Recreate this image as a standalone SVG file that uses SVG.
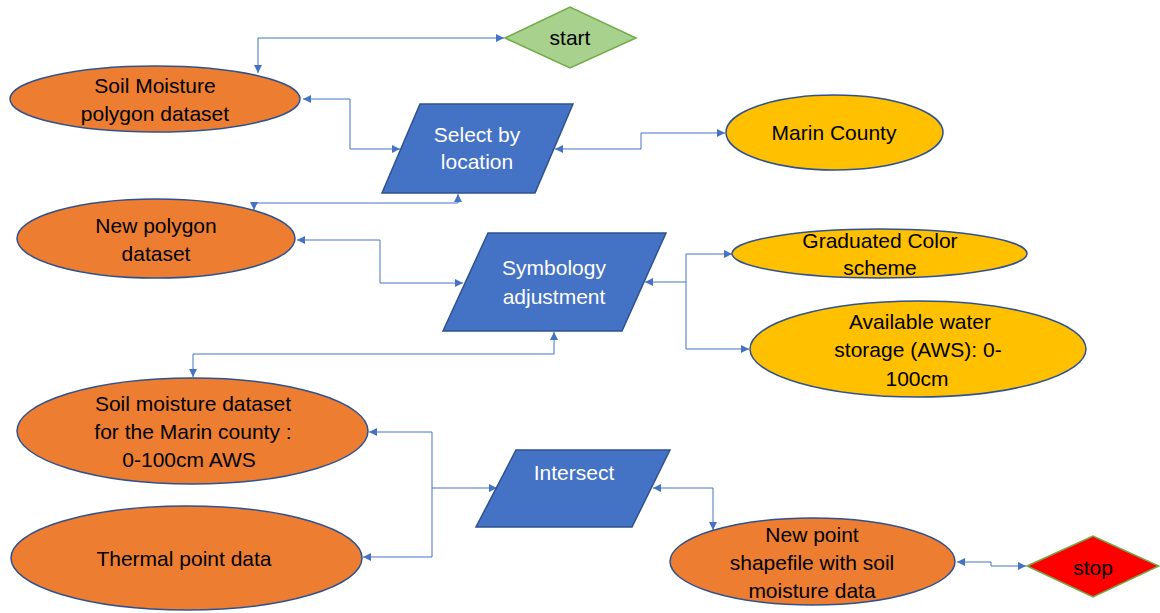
<svg xmlns="http://www.w3.org/2000/svg" width="1160" height="613" viewBox="0 0 1160 613">
  <style>
    .data { fill: #ED7D31; stroke: #2F528F; stroke-width: 1.5; }
    .input { fill: #FFC000; stroke: #2F528F; stroke-width: 1.5; }
    .proc { fill: #4472C4; stroke: #2F528F; stroke-width: 1.5; }
    .term { stroke: #70AD47; stroke-width: 1.5; }
    text { font-family: "Liberation Sans", Arial, sans-serif; font-size: 21px; text-anchor: middle; fill: #000; }
    .proc-label { fill: #fff; }
    .link { fill: none; stroke: #4472C4; stroke-width: 1; marker-start: url(#arrow); marker-end: url(#arrow); }
    .link-end { fill: none; stroke: #4472C4; stroke-width: 1; marker-end: url(#arrow); }
  </style>
  <defs>
    <marker id="arrow" viewBox="0 0 10 10" refX="10" refY="5" markerWidth="9" markerHeight="8" markerUnits="userSpaceOnUse" orient="auto-start-reverse">
      <path d="M0,0 L10,5 L0,10 Z" fill="#4472C4"/>
    </marker>
  </defs>

  <!-- connectors -->
  <g id="connectors">
    <path class="link" d="M258,73 V38 H504"/>
    <path class="link" d="M303,99 H350 V149 H400"/>
    <path class="link" d="M555,149 H641 V133 H725"/>
    <path class="link" d="M458,194 V203 H254 V210"/>
    <path class="link" d="M297,240 H380 V283 H463"/>
    <path class="link" d="M645,282 H686 V254 H732"/>
    <path class="link-end" d="M686,282 V349 H749"/>
    <path class="link" d="M554,332 V354 H193 V377"/>
    <path class="link" d="M497,488 H432 V432 H369"/>
    <path class="link-end" d="M432,488 V557 H363"/>
    <path class="link" d="M653,488 H713 V530"/>
    <path class="link" d="M957,562 H991 V566 H1026"/>
  </g>

  <g id="start">
    <polygon class="term" fill="#A9D18E" points="505,38 570,7 636,38 570,68"/>
    <text x="570" y="45">start</text>
  </g>

  <g id="soil-moisture-polygon">
    <ellipse class="data" cx="155" cy="99" rx="145" ry="33"/>
    <text x="155" y="93">Soil Moisture</text>
    <text x="155" y="121">polygon dataset</text>
  </g>

  <g id="select-by-location">
    <polygon class="proc" points="420,104 573,104 535,193 382,193"/>
    <text class="proc-label" x="477" y="142">Select by</text>
    <text class="proc-label" x="477" y="169">location</text>
  </g>

  <g id="marin-county">
    <ellipse class="input" cx="834.5" cy="132.5" rx="108.5" ry="37.5"/>
    <text x="834" y="140">Marin County</text>
  </g>

  <g id="new-polygon">
    <ellipse class="data" cx="156" cy="238.5" rx="139" ry="39.5"/>
    <text x="156" y="233">New polygon</text>
    <text x="156" y="261">dataset</text>
  </g>

  <g id="symbology">
    <polygon class="proc" points="488,233 666,233 622,331 443,331"/>
    <text class="proc-label" x="554" y="275">Symbology</text>
    <text class="proc-label" x="554" y="304">adjustment</text>
  </g>

  <g id="graduated-color">
    <ellipse class="input" cx="879.5" cy="253.5" rx="147.5" ry="24.5"/>
    <text x="880" y="248">Graduated Color</text>
    <text x="880" y="275">scheme</text>
  </g>

  <g id="aws">
    <ellipse class="input" cx="918" cy="349" rx="168" ry="48"/>
    <text x="920" y="329">Available water</text>
    <text x="918" y="357">storage (AWS): 0-</text>
    <text x="917" y="386">100cm</text>
  </g>

  <g id="soil-moisture-marin">
    <ellipse class="data" cx="192.5" cy="431" rx="175.5" ry="53"/>
    <text x="193" y="411">Soil moisture dataset</text>
    <text x="193" y="439">for the Marin county :</text>
    <text x="189" y="467">0-100cm AWS</text>
  </g>

  <g id="thermal-point">
    <ellipse class="data" cx="186.5" cy="558" rx="175.5" ry="52"/>
    <text x="184" y="566">Thermal point data</text>
  </g>

  <g id="intersect">
    <polygon class="proc" points="516,450 670,450 632,527 476,527"/>
    <text class="proc-label" x="574" y="480">Intersect</text>
  </g>

  <g id="new-point">
    <ellipse class="data" cx="812.5" cy="561.5" rx="142.5" ry="43.5"/>
    <text x="812" y="542">New point</text>
    <text x="812" y="570">shapefile with soil</text>
    <text x="812" y="598">moisture data</text>
  </g>

  <g id="stop">
    <polygon class="term" fill="#FF0000" points="1027,566 1093,536 1159,566 1093,597"/>
    <text x="1093" y="575">stop</text>
  </g>
</svg>
